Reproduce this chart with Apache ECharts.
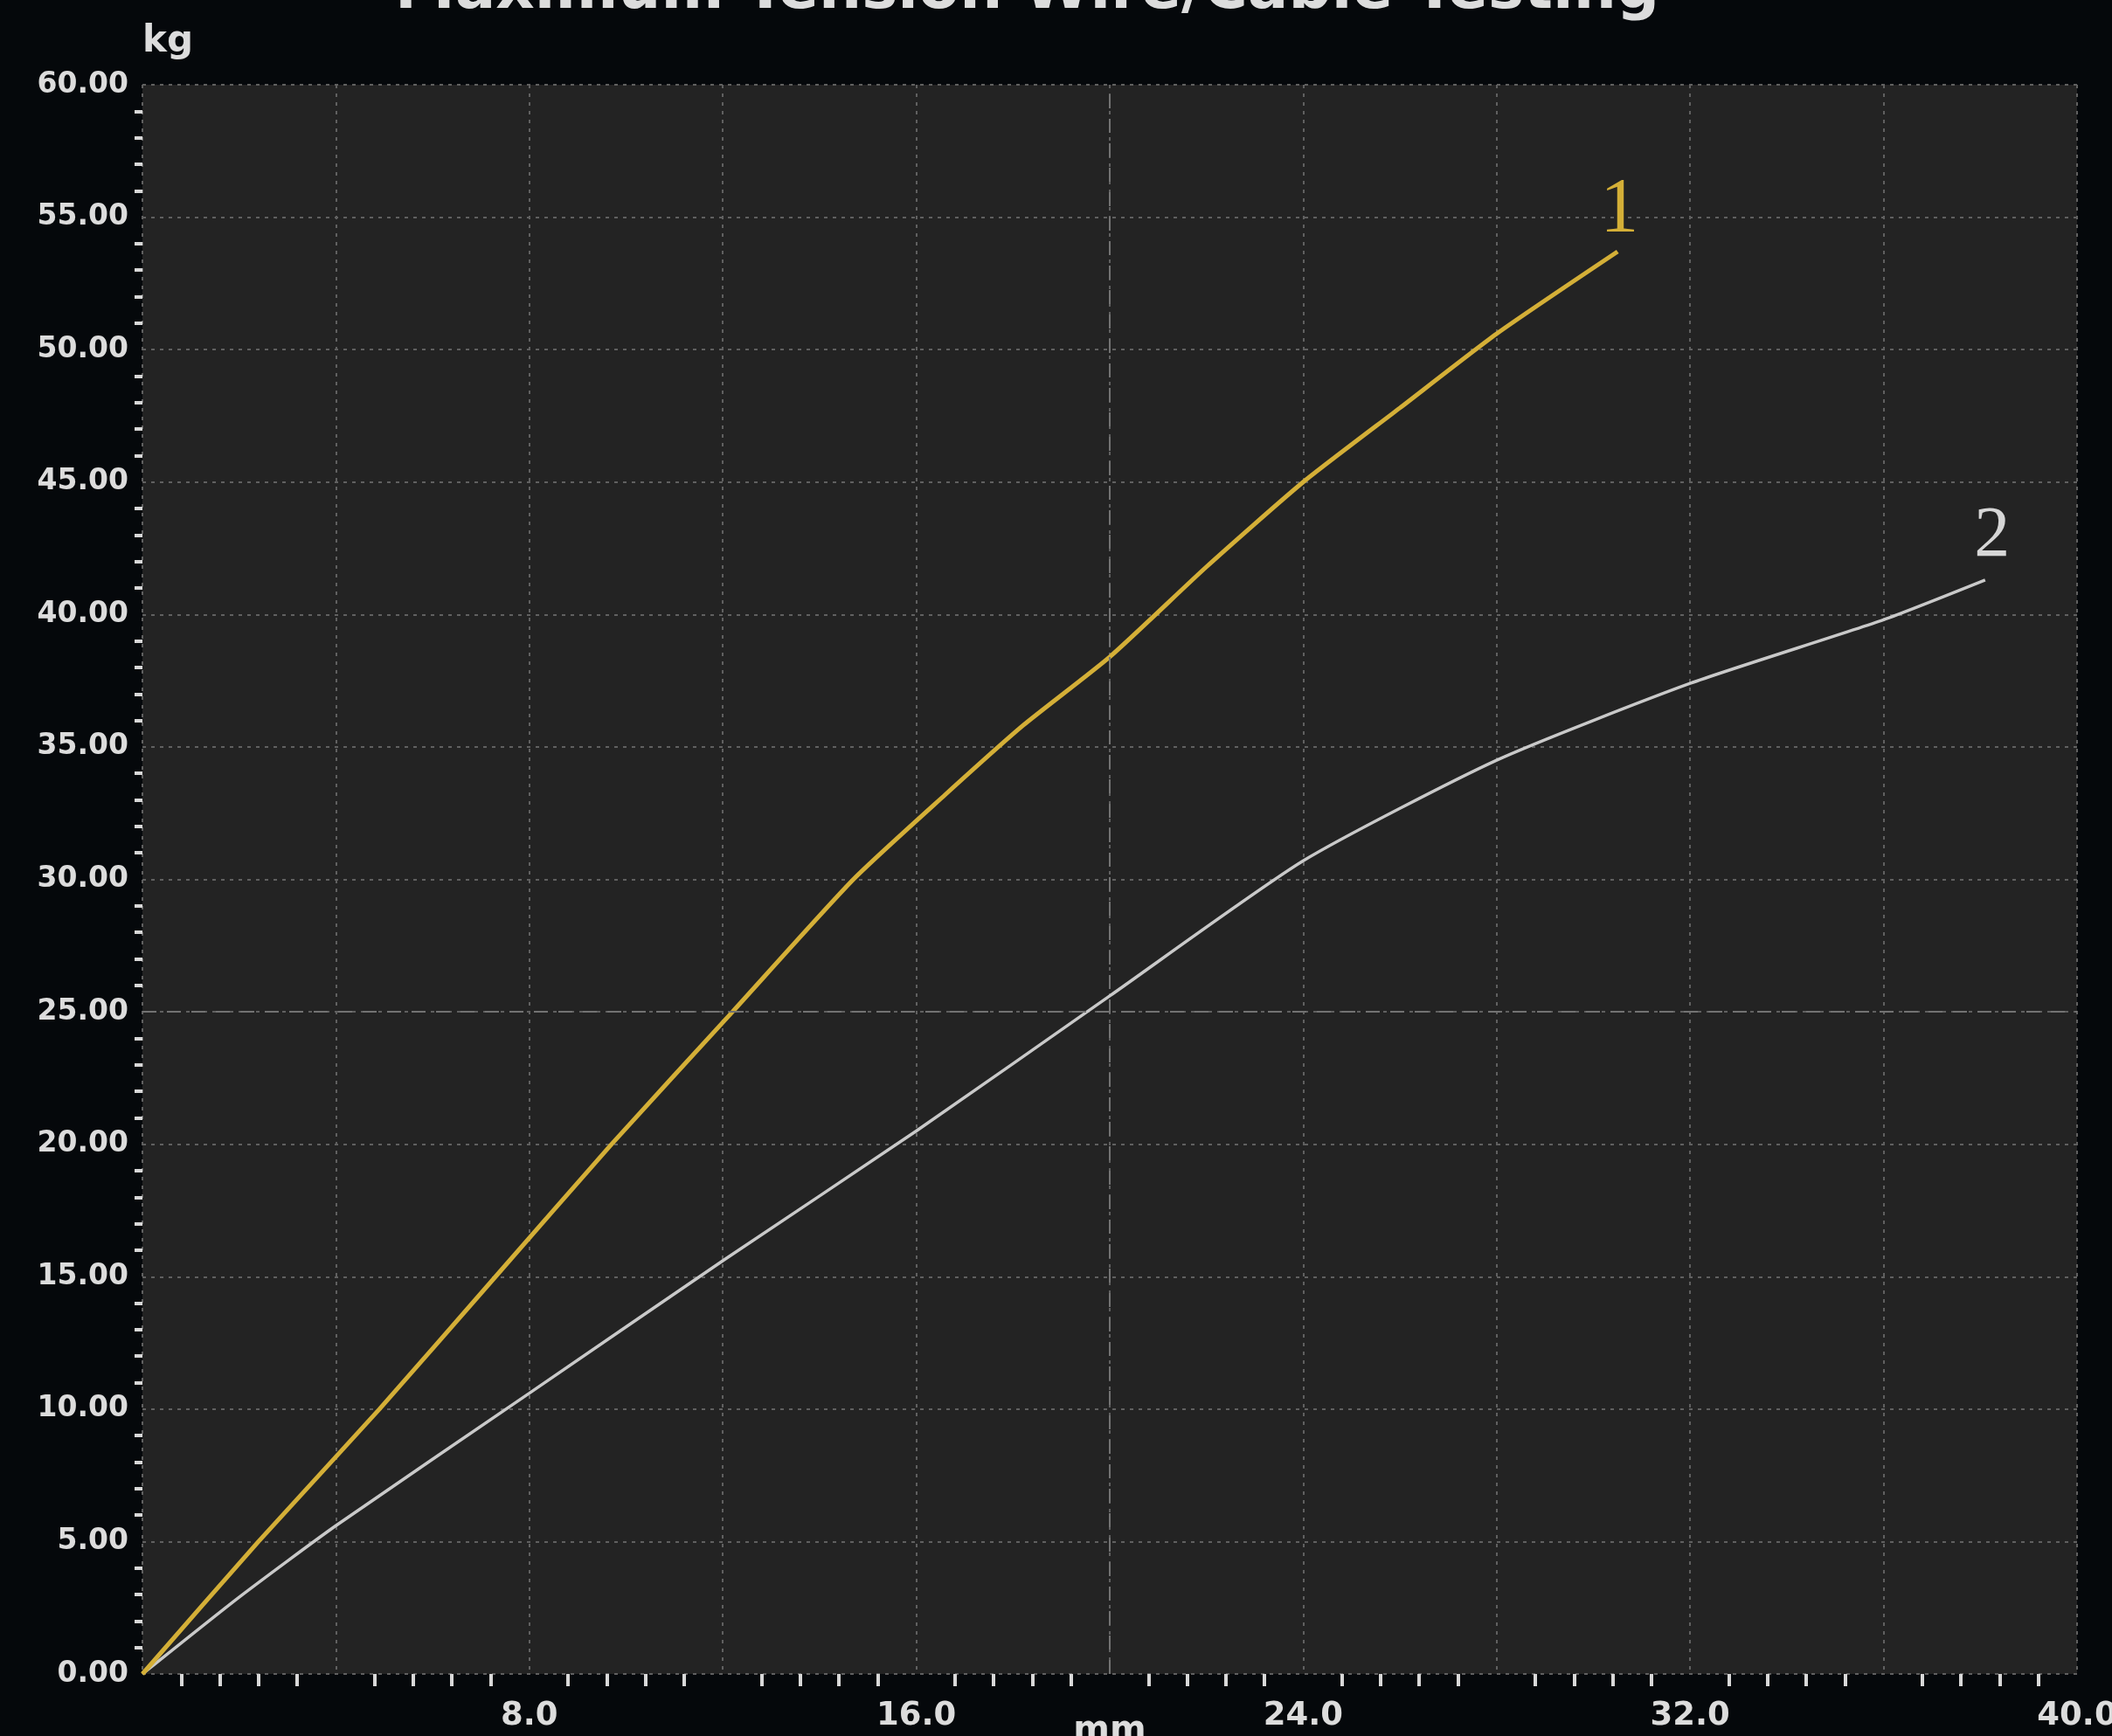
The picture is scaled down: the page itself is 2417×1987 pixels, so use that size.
<!DOCTYPE html>
<html>
<head>
<meta charset="utf-8">
<title>Maximum Tension Wire/Cable Testing</title>
<script src="https://cdn.jsdelivr.net/npm/echarts@6/dist/echarts.min.js"></script>
<style>
  html, body { margin: 0; padding: 0; background: #05080b; }
  #chart { width: 2417px; height: 1987px; }
</style>
</head>
<body>
<div id="chart"></div>
<script>
// curve 1 (gold)
const wire1X = [0, 2.4, 4.9, 7.3, 9.7, 12.2, 14.7, 16.6, 18.2, 20, 22, 24, 26, 28, 30.5];
const wire1Y = [0, 5, 10, 15, 20, 25, 30, 33.2, 35.8, 38.4, 41.8, 45.0, 47.8, 50.6, 53.7];
// curve 2 (grey)
const wire2X = [0, 2, 4, 8, 12, 16, 20, 24, 28, 32, 36, 38.1];
const wire2Y = [0, 2.9, 5.6, 10.6, 15.6, 20.5, 25.6, 30.7, 34.5, 37.4, 39.8, 41.3];
const curveNames = ['1', '2'];
// centre guide lines
const guideX = 20;
const guideY = 25;

const chart = echarts.init(document.getElementById('chart'));

// last point of each curve carries its number
function toPoints(xs, ys, name, labelColor) {
  return xs.map((x, i) => {
    const p = { value: [x, ys[i]] };
    if (i === xs.length - 1) {
      p.label = {
        show: true,
        position: 'top',
        distance: name === '2' ? 8 : 3,
        offset: name === '2' ? [8, 0] : [2, 0],
        formatter: name,
        color: labelColor,
        fontFamily: 'Liberation Serif',
        fontSize: name === '2' ? 82 : 88,
      };
    }
    return p;
  });
}

const labelFont = 'DejaVu Sans';
const textColor = '#dcdcdc';

chart.setOption({
  backgroundColor: '#05080b',
  animation: false,
  title: {
    text: 'Maximum Tension Wire/Cable Testing',
    left: 447,
    top: -48,
    textStyle: {
      color: textColor,
      fontFamily: labelFont,
      fontWeight: 'bold',
      fontSize: 69,
    },
  },
  grid: {
    left: 163,
    right: 40,
    top: 97,
    bottom: 71,
    outerBoundsMode: 'none',
    containLabel: false,
    show: true,
    backgroundColor: '#232323',
    borderWidth: 0,
  },
  xAxis: {
    type: 'value',
    min: 0,
    max: 40,
    interval: 4,
    name: 'mm',
    nameLocation: 'middle',
    nameGap: 46,
    nameMoveOverlap: false,
    nameTextStyle: { color: textColor, fontFamily: labelFont, fontWeight: 'bold', fontSize: 40 },
    axisLine: { show: false },
    axisTick: { show: false },
    minorTick: {
      show: true,
      splitNumber: 5,
      length: 14,
      lineStyle: { color: '#d8d8d8', width: 4 },
    },
    axisLabel: {
      color: textColor,
      fontFamily: labelFont,
      fontWeight: 'bold',
      fontSize: 37,
      margin: 30,
      formatter: (v) => (v > 0 && v % 8 === 0 ? v.toFixed(1) : ''),
    },
    splitLine: {
      show: true,
      lineStyle: { color: '#606060', width: 2, type: [4, 6] },
    },
  },
  yAxis: {
    type: 'value',
    min: 0,
    max: 60,
    interval: 5,
    name: 'kg',
    nameLocation: 'end',
    nameGap: 28,
    nameTextStyle: {
      color: textColor,
      fontFamily: labelFont,
      fontWeight: 'bold',
      fontSize: 42,
      align: 'left',
    },
    axisLine: { show: false },
    axisTick: { show: false },
    minorTick: {
      show: true,
      splitNumber: 5,
      length: 9,
      lineStyle: { color: '#d8d8d8', width: 4 },
    },
    axisLabel: {
      color: textColor,
      fontFamily: labelFont,
      fontWeight: 'bold',
      fontSize: 33,
      margin: 16,
      formatter: (v) => v.toFixed(2),
    },
    splitLine: {
      show: true,
      lineStyle: { color: '#606060', width: 2, type: [4, 6] },
    },
  },
  series: [
    {
      name: curveNames[0],
      type: 'line',
      data: toPoints(wire1X, wire1Y, curveNames[0], '#d4af37'),
      smooth: 0.2,
      symbol: 'circle',
      symbolSize: 0,
      showSymbol: true,
      lineStyle: { color: '#d4af37', width: 5 },
      itemStyle: { color: '#d4af37' },
      z: 4,
      markLine: {
        silent: true,
        symbol: 'none',
        label: { show: false },
        lineStyle: { color: '#727272', width: 2, type: [16, 12] },
        data: [{ xAxis: guideX }, { yAxis: guideY }],
      },
    },
    {
      name: curveNames[1],
      type: 'line',
      data: toPoints(wire2X, wire2Y, curveNames[1], '#d6d6d6'),
      smooth: 0.2,
      symbol: 'circle',
      symbolSize: 0,
      showSymbol: true,
      lineStyle: { color: '#c9c9c9', width: 3.5 },
      itemStyle: { color: '#c9c9c9' },
      z: 3,
    },
  ],
});
</script>
</body>
</html>
